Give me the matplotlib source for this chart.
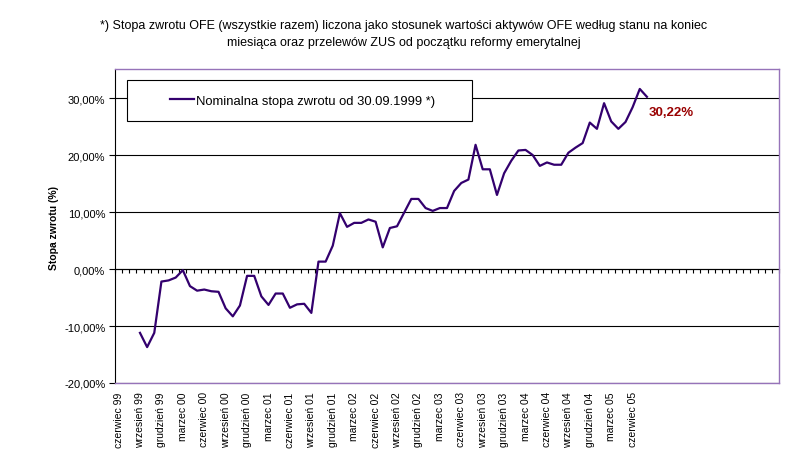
import matplotlib
matplotlib.use("Agg")
import matplotlib.pyplot as plt
from matplotlib.patches import Rectangle
from matplotlib.ticker import FuncFormatter

plt.rcParams['font.family'] = ['Liberation Sans', 'DejaVu Sans']

# Category axis: one category per month, June 1999 .. Feb 2007
n_categories = 93
first_data_index = 3  # wrzesień 99

# labels shown every third month, starting at czerwiec 99
tick_labels = ['czerwiec 99', 'wrzesień 99', 'grudzień 99',
               'marzec 00', 'czerwiec 00', 'wrzesień 00', 'grudzień 00',
               'marzec 01', 'czerwiec 01', 'wrzesień 01', 'grudzień 01',
               'marzec 02', 'czerwiec 02', 'wrzesień 02', 'grudzień 02',
               'marzec 03', 'czerwiec 03', 'wrzesień 03', 'grudzień 03',
               'marzec 04', 'czerwiec 04', 'wrzesień 04', 'grudzień 04',
               'marzec 05', 'czerwiec 05']

# nominal return (%), monthly, Sep 1999 .. Aug 2005
returns = [
    -11.2, -13.7, -11.2, -2.2,                                             # 1999
    -2.0, -1.5, -0.2, -3.0, -3.8, -3.6, -3.9, -4.0, -6.9, -8.3, -6.4, -1.2,  # 2000
    -1.2, -4.8, -6.3, -4.3, -4.3, -6.8, -6.2, -6.1, -7.7, 1.3, 1.3, 4.1,     # 2001
    9.8, 7.4, 8.1, 8.1, 8.7, 8.3, 3.8, 7.2, 7.5, 9.9, 12.3, 12.3,            # 2002
    10.7, 10.2, 10.7, 10.7, 13.7, 15.1, 15.7, 21.8, 17.5, 17.5, 13.0, 16.8,  # 2003
    19.0, 20.8, 20.9, 20.0, 18.1, 18.7, 18.3, 18.3, 20.4, 21.3, 22.1, 25.7,  # 2004
    24.6, 29.1, 25.9, 24.6, 25.8, 28.4, 31.6, 30.22,                        # 2005
]
last_label = '30,22%'

line_color = '#33006e'
frame_color = '#9673b9'

fig = plt.figure(figsize=(7.88, 4.60), dpi=100)
ax = fig.add_axes([115/788, 1 - 384/460, 664/788, 314/460])

x = list(range(first_data_index, first_data_index + len(returns)))
ax.plot(x, returns, color=line_color, lw=1.6, zorder=3,
        label='Nominalna stopa zwrotu od 30.09.1999 *)')

ylo, yhi = -20, 35.1
ax.set_xlim(-0.5, n_categories - 0.5)
ax.set_ylim(ylo, yhi)

# y axis
ax.set_yticks([-20, -10, 0, 10, 20, 30])
ax.yaxis.set_major_formatter(FuncFormatter(lambda v, p: f"{v:.2f}%".replace('.', ',')))
ax.tick_params(axis='y', direction='out', length=4, width=0.8, labelsize=8,
               colors='black', pad=3)
ax.grid(axis='y', color='black', lw=0.8, zorder=1)

# x labels at the bottom of the plot area
ax.set_xticks(range(0, 3 * len(tick_labels), 3))
ax.set_xticklabels(tick_labels, rotation=90, fontsize=7.5)
ax.tick_params(axis='x', length=0, pad=6)

for side in ['top', 'right', 'bottom']:
    ax.spines[side].set_color(frame_color)
    ax.spines[side].set_linewidth(1.0)
ax.spines['left'].set_color('black')
ax.spines['left'].set_linewidth(0.8)

# category axis crossing at 0 with monthly tick marks
zero_frac = (0 - ylo) / (yhi - ylo)
sec = ax.secondary_xaxis(zero_frac)
sec.set_xticks([k - 0.5 for k in range(n_categories + 1)])
sec.set_xticklabels([])
sec.tick_params(direction='out', length=3, width=0.8, color='black')
sec.spines['bottom'].set_color('black')
sec.spines['bottom'].set_linewidth(0.8)

# legend box
ax.add_patch(Rectangle((0.018, 0.834), 0.52, 0.131, transform=ax.transAxes,
                       facecolor='white', edgecolor='black', lw=0.8, zorder=4))
ax.legend(loc='center', bbox_to_anchor=(0.283, 0.8995), frameon=False,
          fontsize=9.4, handlelength=1.8, handletextpad=0.2)

ax.annotate(last_label, xy=(x[-1], returns[-1]), xytext=(1, -11),
            textcoords='offset points', ha='left', va='center',
            fontsize=9.5, fontweight='bold', color='#990000')

fig.text(404/788, 1 - 34.5/460,
         "*) Stopa zwrotu OFE (wszystkie razem) liczona jako stosunek wartości aktywów OFE według stanu na koniec\n"
         "miesiąca oraz przelewów ZUS od początku reformy emerytalnej",
         ha='center', va='center', fontsize=9.0, linespacing=1.45)

fig.text(54/788, 1 - 228/460, 'Stopa zwrotu (%)', rotation=90, ha='center', va='center',
         fontsize=7.5, fontweight='bold')

fig.savefig('out.png', dpi=100)
